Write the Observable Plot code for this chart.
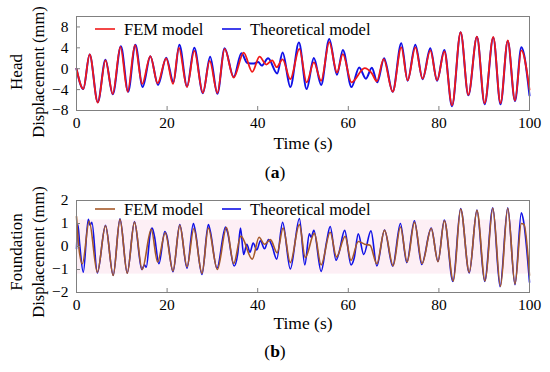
<!DOCTYPE html>
<html><head><meta charset="utf-8">
<script src="https://cdn.jsdelivr.net/npm/d3@7"></script>
<script src="https://cdn.jsdelivr.net/npm/@observablehq/plot@0.6"></script>
<style>
body{margin:0;background:#fff;}
#wrap{position:relative;width:550px;height:372px;font-family:"Liberation Serif",serif;}
#wrap svg{position:absolute;left:0;}
#wrap svg text{font-family:"Liberation Serif",serif !important;}
</style></head><body><div id="wrap"></div>
<script>
// ---- data ----
const xTicks = [0, 20, 40, 60, 80, 100];
const headTicks = [-8, -4, 0, 4, 8];
const foundTicks = [-2, -1, 0, 1, 2];
const seriesNames = ["FEM model", "Theoretical model"];

// (a) Head displacement, FEM model (time s, mm)
const headFemT = [0,1.5,2.9,4.7,6.4,8.0,9.7,11.3,12.9,14.5,16.3,17.9,19.8,21.3,22.6,24.4,26.0,27.9,29.4,31.1,32.7,34.7,36.9,38.8,40.4,41.9,43.2,44.2,45.5,47.2,49.2,50.8,52.4,54.0,55.8,57.5,58.8,60.7,63.6,65.2,66.3,67.8,69.8,71.7,73.1,74.8,76.4,78.1,79.6,81.2,82.9,84.8,86.5,88.4,90.1,92.0,93.6,95.2,96.8,98.2,100];
const headFemV = [0,-3.85,2.75,-6.5,1.6,-4.8,4.2,-4.4,4.5,-2.9,2.4,-2.8,2.0,-2.9,4.0,-3.5,3.4,-4.6,1.5,-4.6,3.8,-1.7,3.1,-0.6,2.3,0.8,1.6,0.3,1.8,-2.0,3.8,-2.6,1.2,-2.3,5.1,-0.7,2.8,-2.6,0.1,-0.9,-2.4,1.85,-4.4,4.1,-2.2,4.1,-1.9,3.5,-2.2,3.3,-7.0,7.0,-5.0,6.15,-6.6,6.1,-6.6,5.4,-6.1,3.5,-4.0];
// (a) Head displacement, Theoretical model
const headThT = [0,1.5,2.9,4.7,6.4,8.0,9.8,11.4,13.0,14.6,16.3,18.0,19.8,21.4,22.7,24.4,26.0,27.9,29.5,31.1,32.7,34.7,36.4,37.7,39.2,40.1,40.9,42.3,44.3,45.5,47.2,49.1,50.8,52.4,54.0,55.8,57.5,58.8,60.7,62.4,63.9,65.2,66.4,67.9,69.8,71.7,73.1,74.8,76.4,78.1,79.6,81.2,82.9,84.8,86.5,88.4,90.1,92.0,93.6,95.2,96.8,98.2,100];
const headThV = [0,-3.9,2.7,-6.4,1.7,-4.9,4.3,-4.4,4.6,-3.5,2.4,-3.1,2.1,-2.6,4.6,-3.4,4.0,-4.7,2.3,-4.8,3.9,-1.6,2.95,1.1,1.0,1.3,0.6,2.0,-0.9,3.1,-3.5,5.0,-3.9,2.05,-3.1,5.7,-1.15,3.6,-3.5,0.25,-1.9,0.2,-2.6,2.0,-4.4,4.9,-2.3,4.6,-2.0,3.9,-2.3,3.6,-7.2,7.0,-5.1,6.1,-6.8,6.0,-6.8,5.3,-6.2,4.1,-5.1];

// (b) Foundation displacement, FEM model
const foundFemT = [0,0.5,1.3,2.8,4.6,6.4,8.1,9.6,11.2,12.8,14.5,16.5,17.9,19.6,21.3,22.8,24.4,25.9,27.7,29.1,31.1,33.1,34.7,36.3,38.8,40.3,41.5,42.8,44.3,45.6,47.2,49.2,50.5,52.5,54.0,56.0,57.4,59.3,60.6,62.2,63.6,64.8,66.3,68.0,69.9,71.5,73.0,74.6,76.3,78.3,79.8,81.2,83.2,84.8,86.7,88.4,90.2,91.9,93.6,95.2,96.8,98.2,98.8,100];
const foundFemV = [1.3,0.0,-0.75,1.1,-1.12,0.9,-1.26,1.18,-1.16,1.06,-1.0,0.75,-0.67,0.6,-1.06,0.92,-0.88,0.77,-1.16,0.8,-1.0,0.82,-0.74,0.45,-0.55,0.4,0.1,0.3,-0.27,0.8,-0.7,0.95,-0.48,0.57,-0.8,0.62,-0.45,0.44,-0.6,0.22,0.1,0.05,-0.75,0.7,-0.84,0.85,-0.67,1.05,-0.74,0.78,-0.66,1.12,-1.5,1.63,-1.12,1.57,-1.5,1.66,-1.73,1.66,-1.63,1.0,0.95,-1.25];
// (b) Foundation displacement, Theoretical model
const foundThT = [0,0.3,0.7,1.5,2.6,3.0,3.4,4.6,6.4,8.1,9.6,11.2,12.8,14.4,15.0,15.4,16.3,16.7,17.2,18.2,19.5,19.9,21.3,22.8,24.4,25.8,26.2,27.7,29.1,29.5,31.0,32.9,33.3,34.8,35.6,36.2,36.9,37.6,38.3,39.0,39.8,40.6,41.5,42.4,43.2,44.2,45.5,47.2,49.2,50.4,51.4,51.8,52.4,54.0,55.2,56.0,57.3,57.9,59.2,60.6,61.3,62.2,63.4,65.0,66.3,68.0,69.8,71.5,72.9,74.6,76.2,78.3,79.8,81.2,83.1,84.8,86.7,88.4,90.1,91.9,93.5,95.2,96.8,98.2,98.6,100];
const foundThV = [-0.1,0.95,0.1,-1.12,1.18,0.92,1.05,-1.15,0.92,-1.25,1.2,-1.15,1.08,-1.0,-0.8,-0.9,0.6,0.8,0.45,-0.75,0.65,0.5,-1.1,0.95,-0.95,1.0,0.7,-1.22,0.95,0.7,-0.95,0.85,0.65,-0.85,-0.3,0.8,-0.35,0.1,-0.25,0.15,-0.15,0.25,-0.1,0.3,0.0,-0.55,1.05,-0.98,1.22,-0.8,0.55,0.4,0.7,-1.08,0.2,0.87,-0.6,-0.3,0.7,-0.8,-0.5,0.55,-0.35,0.68,-0.85,0.72,-0.86,1.0,-0.7,1.12,-0.78,0.8,-0.65,1.15,-1.52,1.65,-1.15,1.58,-1.52,1.68,-1.75,1.68,-1.66,1.47,1.2,-1.55];

// faint pink haze seen behind panel (b) (value range, mm)
const hazeBand = [{y1: -1.2, y2: 1.15}];

// ---- drawing ----
const FONT = "Liberation Serif";
const wrap = document.getElementById("wrap");
const toRows = (T, V) => T.map((t, i) => ({t, v: V[i]}));

function panel({top, height, mt, mb, yDomain, yTicks, lines, band}) {
  const plotW = 550 - 76 - 21, plotH = height - mt - mb;
  const svg = Plot.plot({
    width: 550, height,
    marginLeft: 76, marginRight: 21, marginTop: mt, marginBottom: mb,
    style: {fontFamily: FONT, fontSize: "15px", color: "#000", background: "transparent"},
    x: {domain: [0, 100]},
    y: {domain: yDomain},
    marks: [
      band ? Plot.rectY(band, {y1: "y1", y2: "y2", fill: "#fdeff5"}) : null,
      ...lines.map(l => Plot.line(l.data, {x: "t", y: "v", curve: "monotone-x", stroke: l.color, strokeWidth: l.width})),
      Plot.tickX(xTicks, {x: d => d, insetTop: plotH - 4, stroke: "#808080"}),
      Plot.tickY(yTicks, {y: d => d, insetRight: plotW - 4, stroke: "#808080"}),
      Plot.frame({stroke: "#808080", strokeWidth: 1}),
      Plot.axisX(xTicks, {tickSize: 0, tickPadding: 6, label: null, fontSize: 15.5, fontFamily: FONT}),
      Plot.axisY(yTicks, {tickSize: 0, tickPadding: 8, label: null, fontSize: 15.5, fontFamily: FONT})
    ]
  });
  svg.style.top = top + "px";
  wrap.appendChild(svg);
}

const RED = "#f01818", BLUE = "#1010e6", BROWN = "#a5592a";

panel({top: 0, height: 184, mt: 16, mb: 74, yDomain: [-8, 10], yTicks: headTicks,
  lines: [
    {data: toRows(headThT, headThV), color: BLUE, width: 2},
    {data: toRows(headFemT, headFemV), color: RED, width: 1.8}
  ]});

panel({top: 184, height: 188, mt: 16, mb: 80, yDomain: [-2, 2], yTicks: foundTicks, band: hazeBand,
  lines: [
    {data: toRows(foundThT, foundThV), color: BLUE, width: 1.6},
    {data: toRows(foundFemT, foundFemV), color: BROWN, width: 1.6}
  ]});

// ---- overlay text: labels, legends, panel tags ----
const ov = d3.select(wrap).append("svg").attr("width", 550).attr("height", 372)
  .style("top", "0px").attr("font-family", FONT);

function yLabel(l1, l2, cy) {
  ov.append("text").attr("transform", `translate(16,${cy}) rotate(-90)`)
    .attr("text-anchor", "middle").attr("dy", "0.35em").attr("font-size", 17).text(l1);
  ov.append("text").attr("transform", `translate(38.5,${cy}) rotate(-90)`)
    .attr("text-anchor", "middle").attr("dy", "0.35em").attr("font-size", 16.5).text(l2);
}
yLabel("Head", "Displacement (mm)", 72);
yLabel("Foundation", "Displacement (mm)", 252);

function xLabel(cy) {
  ov.append("text").attr("x", 303).attr("y", cy).attr("dy", "0.35em")
    .attr("text-anchor", "middle").attr("font-size", 17.5).text("Time (s)");
}
xLabel(143); xLabel(323);

function tag(letter, cy) {
  const t = ov.append("text").attr("x", 275).attr("y", cy).attr("dy", "0.35em")
    .attr("text-anchor", "middle").attr("font-size", 17.5);
  t.append("tspan").text("(");
  t.append("tspan").attr("font-weight", "bold").text(letter);
  t.append("tspan").text(")");
}
tag("a", 172); tag("b", 351);

function legend(cy, c1, c2) {
  [[95, 115, c1, 124, seriesNames[0]], [222, 241, c2, 250, seriesNames[1]]].forEach(([x1, x2, c, tx, s]) => {
    ov.append("line").attr("x1", x1).attr("x2", x2).attr("y1", cy).attr("y2", cy)
      .attr("stroke", c).attr("stroke-width", 1.6);
    ov.append("text").attr("x", tx).attr("y", cy).attr("dy", "0.35em")
      .attr("font-size", 16.5).text(s);
  });
}
legend(29, RED, BLUE);
legend(209, BROWN, BLUE);
</script>
</body></html>
